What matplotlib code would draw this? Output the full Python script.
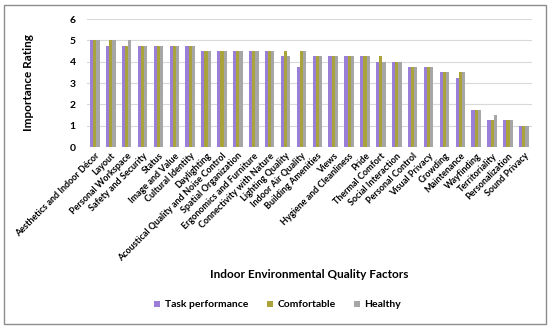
import numpy as np
import matplotlib
matplotlib.use("Agg")
import matplotlib.pyplot as plt
from matplotlib.patches import Rectangle

plt.rcParams['font.family'] = ['Lato', 'DejaVu Sans']
plt.rcParams['font.weight'] = 'bold'

factors = [
    'Aesthetics and Indoor Décor', 'Layout', 'Personal Workspace',
    'Safety and Security', 'Status', 'Image and Value', 'Cultural Identity',
    'Daylighting', 'Acoustical Quality and Noise Control',
    'Spatial Organization', 'Ergonomics and Furniture',
    'Connectivity with Nature', 'Lighting Quality', 'Indoor Air Quality',
    'Building Amenities', 'Views', 'Hygiene and Cleanliness', 'Pride',
    'Thermal Comfort', 'Social Interaction', 'Personal Control',
    'Visual Privacy', 'Crowding', 'Maintenance', 'Wayfinding',
    'Territoriality', 'Personalization', 'Sound Privacy',
]
task_performance = [5, 4.75, 4.75, 4.75, 4.75, 4.75, 4.75, 4.5, 4.5, 4.5,
                    4.5, 4.5, 4.25, 3.75, 4.25, 4.25, 4.25, 4.25, 4, 4,
                    3.75, 3.75, 3.5, 3.25, 1.75, 1.25, 1.25, 1]
comfortable = [5, 5, 4.75, 4.75, 4.75, 4.75, 4.75, 4.5, 4.5, 4.5,
               4.5, 4.5, 4.5, 4.5, 4.25, 4.25, 4.25, 4.25, 4.25, 4,
               3.75, 3.75, 3.5, 3.5, 1.75, 1.25, 1.25, 1]
healthy = [5, 5, 5, 4.75, 4.75, 4.75, 4.75, 4.5, 4.5, 4.5,
           4.5, 4.5, 4.25, 4.5, 4.25, 4.25, 4.25, 4.25, 4, 4,
           3.75, 3.75, 3.5, 3.5, 1.75, 1.5, 1.25, 1]

fig = plt.figure(figsize=(5.5, 3.29), dpi=100)
ax = fig.add_axes([0.158, 0.553, 0.809, 0.389])

x = np.arange(len(factors))
w = 0.2
ax.bar(x - w, task_performance, w, color='#9b7fd6', label='Task performance', zorder=3)
ax.bar(x, comfortable, w, color='#aaa23a', label='Comfortable', zorder=3)
ax.bar(x + w, healthy, w, color='#a6a6a6', label='Healthy', zorder=3)

ax.set_xlim(-0.5, len(factors) - 0.5)
ax.set_ylim(0, 6)
ax.set_yticks(range(7))
ax.yaxis.grid(True, color='#d9d9d9', linewidth=0.8, zorder=0)
for s in ax.spines.values():
    s.set_visible(False)
ax.tick_params(axis='both', length=0)
ax.tick_params(axis='y', labelsize=7.5, pad=8)
ax.set_xticks(x)
ax.set_xticklabels(factors, rotation=45, ha='right', rotation_mode='anchor',
                   fontsize=6.5, fontweight='bold')
ax.tick_params(axis='x', pad=3)
for lbl in ax.get_yticklabels():
    lbl.set_fontweight('bold')

fig.text(0.052, 0.748, 'Importance Rating', rotation=90, ha='center', va='center',
         fontsize=8.5, fontweight='bold')
fig.text(0.563, 0.167, 'Indoor Environmental Quality Factors', ha='center', va='center',
         fontsize=8.5, fontweight='bold')

fig.legend(loc='center', bbox_to_anchor=(0.505, 0.073), ncol=3, frameon=False,
           handlelength=0.6, handleheight=0.6, handletextpad=0.4,
           columnspacing=1.8, prop={'weight': 'bold', 'size': 7.5})

fig.patches.append(Rectangle((0.007, 0.015), 0.986, 0.97, transform=fig.transFigure,
                             fill=False, edgecolor='#8c8c8c', linewidth=1))

fig.savefig('out.png', dpi=100)
